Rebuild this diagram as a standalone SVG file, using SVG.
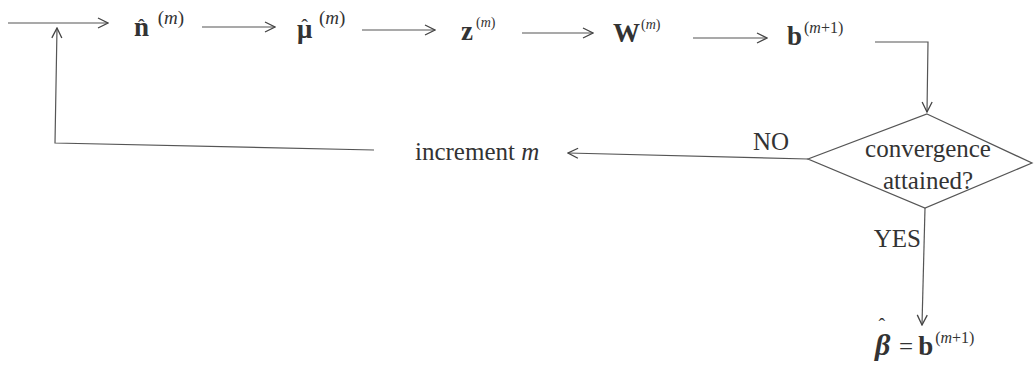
<svg xmlns="http://www.w3.org/2000/svg" width="1035" height="365" viewBox="0 0 1035 365">
<style>
.t{font-family:'Liberation Serif','DejaVu Serif',serif;fill:#333;font-size:25px}
.m{font-size:27px}
.b{font-weight:bold}
.i{font-style:italic}
.s1{font-size:19px}
.s2{font-size:14px}
.s3{font-size:16px}
.h{font-size:20px;font-weight:normal;font-style:normal}
.ln{fill:none;stroke:#555;stroke-width:1.2}
</style>
<defs>
<marker id="ah" viewBox="0 0 12 12" refX="11" refY="6" markerWidth="12" markerHeight="12" markerUnits="userSpaceOnUse" orient="auto">
<path d="M1,1 L11,6 L1,11" fill="none" stroke="#444" stroke-width="1.3"/>
</marker>
</defs>
<g id="connectors">
<path class="ln" d="M8,23 L108,23" marker-end="url(#ah)"/>
<path class="ln" d="M202,27 L275,27" marker-end="url(#ah)"/>
<path class="ln" d="M362,30 L435,30" marker-end="url(#ah)"/>
<path class="ln" d="M522,33 L593,33" marker-end="url(#ah)"/>
<path class="ln" d="M693,38 L767,38" marker-end="url(#ah)"/>
<path class="ln" d="M875,42 L928,42 L927,112" marker-end="url(#ah)"/>
<path class="ln" d="M808,159 L568,153" marker-end="url(#ah)"/>
<path class="ln" d="M374,150 L55,143 L57,28" marker-end="url(#ah)"/>
<path class="ln" d="M925,208 L922,325" marker-end="url(#ah)"/>
</g>
<g id="n-hat">
<text class="t m" x="134" y="36"><tspan class="b">n</tspan><tspan class="h" dx="-11" dy="-2">ˆ</tspan><tspan class="s1" dx="13" dy="-10">(</tspan><tspan class="s1 i">m</tspan><tspan class="s1">)</tspan></text>
</g>
<g id="mu-hat">
<text class="t m" x="297" y="38"><tspan class="b">μ</tspan><tspan class="h" dx="-11" dy="-4">ˆ</tspan><tspan class="s1" dx="11" dy="-10">(</tspan><tspan class="s1 i">m</tspan><tspan class="s1">)</tspan></text>
</g>
<g id="z">
<text class="t m" x="461" y="40"><tspan class="b">z</tspan><tspan class="s2" dx="3" dy="-13">(</tspan><tspan class="s2 i">m</tspan><tspan class="s2">)</tspan></text>
</g>
<g id="W">
<text class="t m" x="613" y="42"><tspan class="b">W</tspan><tspan class="s2" dx="1" dy="-13">(</tspan><tspan class="s2 i">m</tspan><tspan class="s2">)</tspan></text>
</g>
<g id="b">
<text class="t m" x="787" y="45"><tspan class="b">b</tspan><tspan class="s3" dx="2" dy="-12">(</tspan><tspan class="s3 i">m</tspan><tspan class="s3">+1)</tspan></text>
</g>
<g id="decision">
<path class="ln" d="M927,114 L1032,163 L925,208 L808,159 Z"/>
<text class="t" x="928" y="157" text-anchor="middle">convergence</text>
<text class="t" x="928" y="189" text-anchor="middle">attained?</text>
</g>
<g id="labels">
<text class="t" x="753" y="150" font-size="22">NO</text>
<text class="t" x="921" y="247" text-anchor="end">YES</text>
</g>
<g id="increment">
<text class="t" x="415" y="160">increment <tspan class="i">m</tspan></text>
</g>
<g id="result">
<text class="t" x="875" y="355"><tspan class="b i" font-size="30">β</tspan><tspan class="h" dx="-12" dy="-22">ˆ</tspan><tspan dx="14" dy="22">=</tspan><tspan class="b m" dx="5">b</tspan><tspan class="s3" dx="2" dy="-12">(</tspan><tspan class="s3 i">m</tspan><tspan class="s3">+1)</tspan></text>
</g>
</svg>
